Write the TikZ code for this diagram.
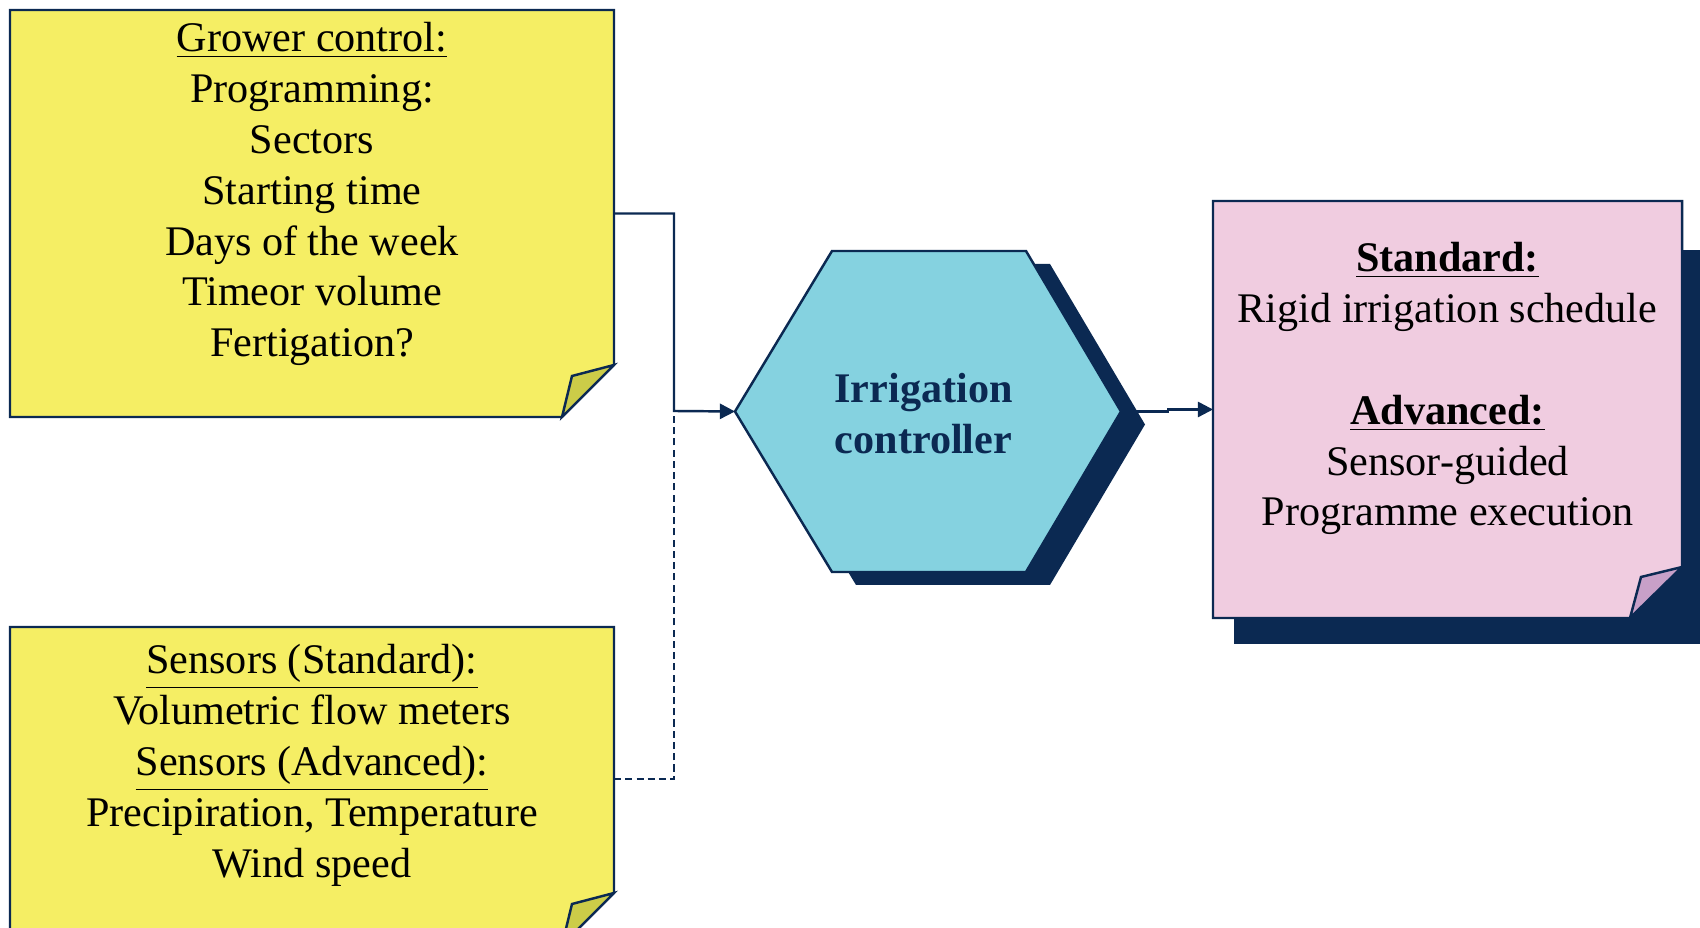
\documentclass[tikz,border=0pt]{standalone}
\usepackage{fontspec}
\setmainfont{Liberation Serif}
\usetikzlibrary{arrows.meta, positioning, calc}

\definecolor{navy}{HTML}{0B2952}
\definecolor{noteyellow}{HTML}{F5EE64}
\definecolor{foldyellow}{HTML}{CCCC48}
\definecolor{notepink}{HTML}{F0CCE0}
\definecolor{foldpink}{HTML}{C8A0C8}
\definecolor{hexcyan}{HTML}{85D2E0}

\begin{document}
\begin{tikzpicture}[
    >={Triangle[length=4.3pt, width=4.3pt]},
    font=\fontsize{12}{14.5}\selectfont,
    note/.style={inner sep=0pt, outer sep=0pt},
    notetext/.style={align=center, text=black, inner sep=0pt},
    outline/.style={draw=navy, line width=0.7pt, line join=miter},
    arr/.style={->, draw=navy, line width=0.7pt},
    dashline/.style={draw=navy, line width=0.7pt, dash pattern=on 2pt off 1.2pt},
    shadow/.style={fill=navy, draw=none}
]

\useasboundingbox (0,0) rectangle (17,-9.28);
\clip (0,0) rectangle (17,-9.28);

% ================= LEFT: GROWER CONTROL NOTE =================
\node[note, minimum width=6.04cm, minimum height=4.07cm] (grower) at (3.12,-2.135) {};
\filldraw[outline, fill=noteyellow] (grower.north west) -- (grower.north east)
    -- ($(grower.south east)+(0,0.52)$) -- ($(grower.south east)+(-0.52,0)$)
    -- (grower.south west) -- cycle;
\filldraw[outline, fill=foldyellow] ($(grower.south east)+(0,0.52)$)
    -- ($(grower.south east)+(-0.42,0.41)$) -- ($(grower.south east)+(-0.52,0)$) -- cycle;
\node[notetext] (growertxt) at ($(grower.center)+(0,0.195)$)
    {\underline{Grower control:}\\ Programming:\\ Sectors\\ Starting time\\
     Days of the week\\ Timeor volume\\ Fertigation?};

% ================= LEFT: SENSORS NOTE =================
\node[note, minimum width=6.04cm, minimum height=3.18cm] (sensors) at (3.12,-7.86) {};
\filldraw[outline, fill=noteyellow] (sensors.north west) -- (sensors.north east)
    -- ($(sensors.south east)+(0,0.52)$) -- ($(sensors.south east)+(-0.52,0)$)
    -- (sensors.south west) -- cycle;
\filldraw[outline, fill=foldyellow] ($(sensors.south east)+(0,0.52)$)
    -- ($(sensors.south east)+(-0.42,0.41)$) -- ($(sensors.south east)+(-0.52,0)$) -- cycle;
\node[notetext] (sensorstxt) at ($(sensors.center)+(0,0.205)$)
    {\underline{Sensors (Standard):}\\ Volumetric flow meters\\
     \underline{Sensors (Advanced):}\\ Precipiration, Temperature\\ Wind speed};
\coordinate (sensorsout) at ([yshift=-1.52cm]sensors.north east);

% ================= CENTRE: IRRIGATION CONTROLLER =================
\coordinate (ctrl) at (9.28,-4.115);
\coordinate (ctrlW) at ($(ctrl)+(-1.93,0)$);
\coordinate (ctrlE) at ($(ctrl)+(1.93,0)$);

% shadow
\fill[shadow] ($(ctrlW)+(0.24,-0.13)$) -- ($(ctrl)+(-0.72,1.475)$) -- ($(ctrl)+(1.22,1.475)$)
    -- ($(ctrlE)+(0.24,-0.13)$) -- ($(ctrl)+(1.22,-1.735)$) -- ($(ctrl)+(-0.72,-1.735)$) -- cycle;
\filldraw[outline, fill=hexcyan] (ctrlW) -- ($(ctrl)+(-0.96,1.605)$) -- ($(ctrl)+(0.98,1.605)$)
    -- (ctrlE) -- ($(ctrl)+(0.98,-1.605)$) -- ($(ctrl)+(-0.96,-1.605)$) -- cycle;
\node[align=center, text=navy, font=\fontsize{12}{14.5}\selectfont\bfseries] (ctrltxt)
    at ($(ctrl)+(-0.045,-0.02)$) {Irrigation\\ controller};

% ================= RIGHT: RESULT NOTE =================
\node[note, minimum width=4.69cm, minimum height=4.17cm] (result) at (14.475,-4.095) {};
\fill[shadow] (12.34,-2.50) rectangle (17.2,-6.44);
\filldraw[outline, fill=notepink] (result.north west) -- (result.north east)
    -- ($(result.south east)+(0,0.51)$) -- ($(result.south east)+(-0.52,0)$)
    -- (result.south west) -- cycle;
\filldraw[outline, fill=foldpink] ($(result.south east)+(0,0.51)$)
    -- ($(result.south east)+(-0.41,0.41)$) -- ($(result.south east)+(-0.52,0)$) -- cycle;
\node[notetext] (resulttxt) at ($(result.center)+(0,0.21)$)
    {\textbf{\underline{Standard:}}\\ Rigid irrigation schedule\\[14.5pt]
     \textbf{\underline{Advanced:}}\\ Sensor-guided\\ Programme execution};

% ================= CONNECTORS =================
\coordinate (junction) at (6.74,-4.11);
\draw[dashline] (sensorsout) -| (junction);
\draw[arr] (grower.east) -| (junction) -- (ctrlW);
\draw[arr] (ctrlE) -- ++(0.47,0) |- (result.west);

\end{tikzpicture}
\end{document}
